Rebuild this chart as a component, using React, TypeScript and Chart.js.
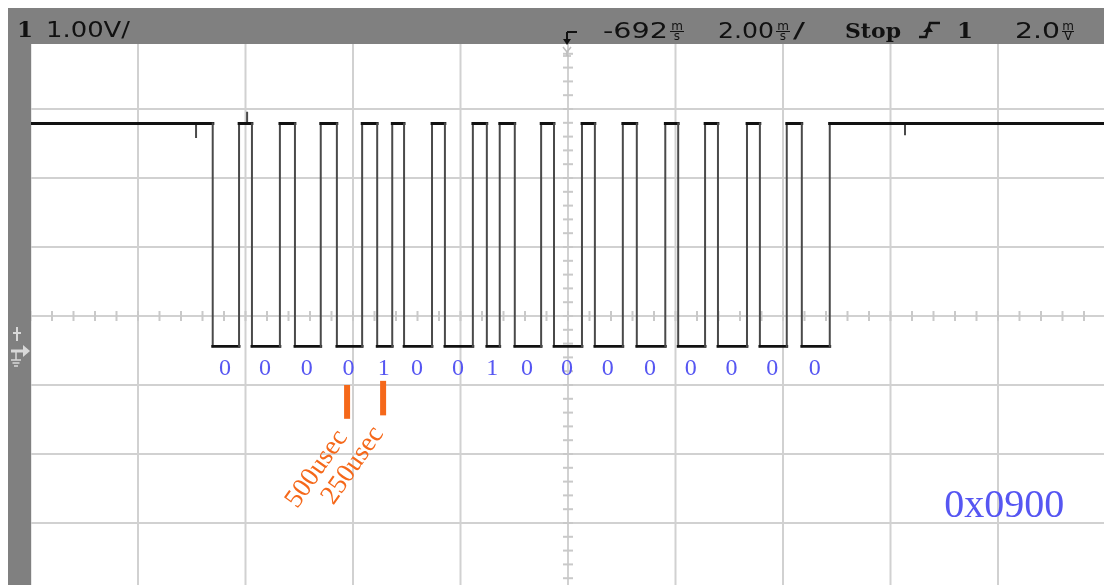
import { useEffect, useRef } from "react";
import { Chart, registerables } from "chart.js";

Chart.register(...registerables);

// ---------------- data ----------------
const X_MIN_MS = -10;
const X_MAX_MS = 10;
const X_DIV_MS = 2; // 2.00 ms/div
const Y_MIN_V = -3.5;
const Y_MAX_V = 4.5;
const Y_DIV_V = 1; // 1.00 V/div

const HIGH_V = 3.29;
const LOW_V = 0.06;

// alternating falling / rising edges of the frame (ms)
const EDGE_TIMES_MS = [
  -6.61, -6.12, -5.88, -5.36, -5.08, -4.6, -4.3, -3.83, -3.55, -3.27, -3.05,
  -2.53, -2.29, -1.77, -1.51, -1.27, -0.99, -0.5, -0.26, 0.26, 0.5, 1.02,
  1.28, 1.81, 2.05, 2.55, 2.79, 3.33, 3.57, 4.07, 4.35, 4.87,
];

// small noise spikes on the trace
const GLITCH_TIMES_MS = [-6.92, -5.97, 6.27];
const GLITCH_VOLTS = [3.08, 3.46, 3.12];

const BIT_VALUES = ["0", "0", "0", "0", "1", "0", "0", "1", "0", "0", "0", "0", "0", "0", "0", "0"];
const MARKER_TIMES_MS = [-4.11, -3.44];
const MARKER_TEXTS = ["500usec", "250usec"];
const HEX_TEXT = "0x0900";

const HDR_CHANNEL = "1";
const HDR_VOLTS = "1.00V/";
const HDR_DELAY = "-692";
const HDR_TIMEBASE = "2.00";
const HDR_RUN = "Stop";
const HDR_TRIG_CH = "1";
const HDR_TRIG_LEVEL = "2.0";

// ---------------- build the trace from the arrays ----------------
type Pt = { x: number; y: number };
function buildTrace(): Pt[] {
  const pts: Pt[] = [{ x: X_MIN_MS, y: HIGH_V }];
  const events: { t: number; kind: "edge" | "glitch"; i: number }[] = [];
  EDGE_TIMES_MS.forEach((t, i) => events.push({ t, kind: "edge", i }));
  GLITCH_TIMES_MS.forEach((t, i) => events.push({ t, kind: "glitch", i }));
  events.sort((a, b) => a.t - b.t);
  let level = HIGH_V;
  for (const e of events) {
    if (e.kind === "edge") {
      const next = e.i % 2 === 0 ? LOW_V : HIGH_V;
      pts.push({ x: e.t, y: level });
      pts.push({ x: e.t, y: next });
      level = next;
    } else {
      pts.push({ x: e.t, y: level });
      pts.push({ x: e.t, y: GLITCH_VOLTS[e.i] });
      pts.push({ x: e.t, y: level });
    }
  }
  pts.push({ x: X_MAX_MS, y: level });
  return pts;
}

// ---------------- layout / style ----------------
const GRAY = "#808080";
const GRID = "#d1d1d1";
const BLUE = "#5656f2";
const ORANGE = "#f5681a";
const INK = "#111111";

function fitText(ctx: CanvasRenderingContext2D, text: string, x: number, y: number, width: number, font: string) {
  ctx.save();
  ctx.font = font;
  ctx.textAlign = "left";
  ctx.textBaseline = "alphabetic";
  const w = ctx.measureText(text).width;
  ctx.translate(x, y);
  ctx.scale(width / w, 1);
  ctx.fillText(text, 0, 0);
  ctx.restore();
}

function stackUnit(ctx: CanvasRenderingContext2D, top: string, bottom: string, x: number, w: number) {
  ctx.save();
  ctx.font = "12px 'DejaVu Sans'";
  ctx.textAlign = "center";
  ctx.fillStyle = INK;
  ctx.fillText(top, x + w / 2, 22);
  ctx.fillText(bottom, x + w / 2, 31.5);
  ctx.strokeStyle = INK;
  ctx.lineWidth = 1;
  ctx.beginPath();
  ctx.moveTo(x + 2, 23.5);
  ctx.lineTo(x + w - 2, 23.5);
  ctx.stroke();
  ctx.restore();
}

function line(ctx: CanvasRenderingContext2D, x1: number, y1: number, x2: number, y2: number) {
  ctx.beginPath();
  ctx.moveTo(x1, y1);
  ctx.lineTo(x2, y2);
  ctx.stroke();
}

const scopePlugin = {
  id: "scope",
  beforeDraw(chart: any) {
    const ctx: CanvasRenderingContext2D = chart.ctx;
    ctx.save();
    ctx.fillStyle = "#ffffff";
    ctx.fillRect(0, 0, chart.width, chart.height);
    ctx.restore();
  },
  beforeDatasetsDraw(chart: any) {
    const ctx: CanvasRenderingContext2D = chart.ctx;
    const xs = chart.scales.x;
    const ys = chart.scales.y;
    const { top, bottom, left, right } = chart.chartArea;
    ctx.save();
    ctx.strokeStyle = GRID;
    ctx.lineWidth = 2;
    const nx = Math.round((X_MAX_MS - X_MIN_MS) / X_DIV_MS);
    const ny = Math.round((Y_MAX_V - Y_MIN_V) / Y_DIV_V);
    for (let i = 0; i <= nx; i++) {
      const px = xs.getPixelForValue(X_MIN_MS + i * X_DIV_MS);
      line(ctx, px, top, px, bottom);
    }
    for (let i = 0; i <= ny; i++) {
      const py = ys.getPixelForValue(Y_MIN_V + i * Y_DIV_V);
      line(ctx, left, py, right, py);
    }
    const cx = xs.getPixelForValue((X_MIN_MS + X_MAX_MS) / 2);
    const cy = ys.getPixelForValue((Y_MIN_V + Y_MAX_V) / 2);
    ctx.strokeStyle = "#c9c9c9";
    for (let i = 0; i <= nx * 5; i++) {
      const px = xs.getPixelForValue(X_MIN_MS + (i * X_DIV_MS) / 5);
      line(ctx, px, cy - 5, px, cy + 5);
    }
    for (let i = 0; i <= ny * 5; i++) {
      const py = ys.getPixelForValue(Y_MIN_V + (i * Y_DIV_V) / 5);
      line(ctx, cx - 5, py, cx + 5, py);
    }
    ctx.restore();
  },
  afterDatasetsDraw(chart: any) {
    const ctx: CanvasRenderingContext2D = chart.ctx;
    const xs = chart.scales.x;
    const ys = chart.scales.y;
    ctx.save();

    // bit labels under each low period
    ctx.font = "24px 'Liberation Serif'";
    ctx.fillStyle = BLUE;
    ctx.textAlign = "center";
    ctx.textBaseline = "alphabetic";
    BIT_VALUES.forEach((b, i) => {
      const t = (EDGE_TIMES_MS[2 * i] + EDGE_TIMES_MS[2 * i + 1]) / 2;
      ctx.fillText(b, xs.getPixelForValue(t) - 1, ys.getPixelForValue(-0.36));
    });

    // hex value
    ctx.font = "40px 'Liberation Serif'";
    ctx.textAlign = "left";
    ctx.fillText(HEX_TEXT, xs.getPixelForValue(7.0), ys.getPixelForValue(-2.41));

    // orange markers
    const barTops = [-0.5, -0.44];
    const barBottoms = [-0.99, -0.94];
    MARKER_TIMES_MS.forEach((t, i) => {
      const px = xs.getPixelForValue(t);
      const y1 = ys.getPixelForValue(barTops[i]);
      const y2 = ys.getPixelForValue(barBottoms[i]);
      ctx.fillStyle = ORANGE;
      ctx.fillRect(px - 3, y1, 6, y2 - y1);
      ctx.save();
      ctx.translate(px + 1, y2 + 18);
      ctx.rotate((-55 * Math.PI) / 180);
      ctx.font = "27px 'Liberation Serif'";
      ctx.textAlign = "right";
      ctx.textBaseline = "alphabetic";
      ctx.fillText(MARKER_TEXTS[i], 0, 0);
      ctx.restore();
    });

    // ----- scope frame: header bar & left strip -----
    ctx.fillStyle = GRAY;
    ctx.fillRect(0, 0, chart.width, 36);
    ctx.fillRect(0, 0, 23, chart.height);

    // trigger position marker
    ctx.strokeStyle = INK;
    ctx.fillStyle = INK;
    ctx.lineWidth = 2;
    line(ctx, 559, 24, 569, 24);
    line(ctx, 559, 24, 559, 32);
    ctx.beginPath();
    ctx.moveTo(555, 31);
    ctx.lineTo(563, 31);
    ctx.lineTo(559, 37);
    ctx.closePath();
    ctx.fill();
    ctx.strokeStyle = "#bdbdbd";
    ctx.lineWidth = 1.5;
    ctx.beginPath();
    ctx.moveTo(555, 39);
    ctx.lineTo(559, 44);
    ctx.lineTo(563, 39);
    ctx.stroke();
    line(ctx, 559, 44, 559, 48);
    line(ctx, 555, 48, 563, 48);

    // header texts
    ctx.fillStyle = INK;
    ctx.font = "bold 23px 'DejaVu Serif'";
    ctx.textAlign = "left";
    ctx.fillText(HDR_CHANNEL, 9, 29);
    fitText(ctx, HDR_VOLTS, 38, 29, 84, "22px 'DejaVu Sans'");
    fitText(ctx, HDR_DELAY, 595, 30, 65, "22px 'DejaVu Sans'");
    stackUnit(ctx, "m", "s", 660, 18);
    fitText(ctx, HDR_TIMEBASE, 710, 30, 56, "22px 'DejaVu Sans'");
    stackUnit(ctx, "m", "s", 766, 18);
    fitText(ctx, "/", 785, 30, 12, "22px 'DejaVu Sans'");
    fitText(ctx, HDR_RUN, 837, 30, 56, "bold 21px 'DejaVu Serif'");
    // trigger edge symbol
    ctx.strokeStyle = INK;
    ctx.lineWidth = 2.5;
    ctx.beginPath();
    ctx.moveTo(911, 29);
    ctx.lineTo(918, 29);
    ctx.lineTo(922, 15);
    ctx.lineTo(932, 15);
    ctx.stroke();
    ctx.beginPath();
    ctx.moveTo(915, 24);
    ctx.lineTo(925, 24);
    ctx.lineTo(921, 18);
    ctx.closePath();
    ctx.fill();
    ctx.font = "bold 23px 'DejaVu Serif'";
    ctx.fillText(HDR_TRIG_CH, 949, 30);
    fitText(ctx, HDR_TRIG_LEVEL, 1007, 30, 45, "22px 'DejaVu Sans'");
    stackUnit(ctx, "m", "V", 1052, 16);

    // ground marker in the left strip
    ctx.strokeStyle = "#d9d9d9";
    ctx.fillStyle = "#d9d9d9";
    ctx.lineWidth = 2;
    line(ctx, 9, 319, 9, 333);
    line(ctx, 5, 325, 13, 325);
    ctx.lineWidth = 3;
    line(ctx, 3, 343, 16, 343);
    ctx.beginPath();
    ctx.moveTo(15, 337);
    ctx.lineTo(15, 349);
    ctx.lineTo(22, 343);
    ctx.closePath();
    ctx.fill();
    ctx.lineWidth = 1.5;
    line(ctx, 8, 343, 8, 352);
    line(ctx, 3, 352, 13, 352);
    line(ctx, 4.5, 355, 11.5, 355);
    line(ctx, 6, 358, 10, 358);

    ctx.restore();
  },
};

export default function App() {
  const ref = useRef<HTMLCanvasElement>(null);
  useEffect(() => {
    const trace = buildTrace();
    const firstEdge = EDGE_TIMES_MS[0];
    const lastEdge = EDGE_TIMES_MS[EDGE_TIMES_MS.length - 1];
    const chart = new Chart(ref.current!, {
      type: "line",
      data: {
        datasets: [
          {
            data: trace,
            borderColor: INK,
            borderWidth: 2.5,
            pointRadius: 0,
            tension: 0,
            borderCapStyle: "square",
            segment: {
              borderWidth: (c: any) => {
                if (c.p0.parsed.x === c.p1.parsed.x) return 2;
                if (c.p0.parsed.x < firstEdge || c.p0.parsed.x >= lastEdge) return 3.2;
                return 2.8;
              },
              borderColor: (c: any) => (c.p0.parsed.x === c.p1.parsed.x ? "#4a4a4a" : INK),
            },
          } as any,
        ],
      },
      options: {
        responsive: false,
        devicePixelRatio: 1,
        animation: false,
        events: [],
        layout: { padding: { left: 22.5, top: 32, right: 12.5, bottom: 16 } },
        plugins: { legend: { display: false }, tooltip: { enabled: false } },
        scales: {
          x: { type: "linear", min: X_MIN_MS, max: X_MAX_MS, display: false },
          y: { type: "linear", min: Y_MIN_V, max: Y_MAX_V, display: false },
        },
      },
      plugins: [scopePlugin],
    });
    return () => chart.destroy();
  }, []);
  return (
    <div
      style={{
        position: "fixed",
        left: 8,
        top: 8,
        width: 1096,
        height: 577,
        overflow: "hidden",
        background: "#ffffff",
      }}
    >
      <canvas ref={ref} width={1110} height={600} style={{ display: "block", width: 1110, height: 600 }} />
    </div>
  );
}
